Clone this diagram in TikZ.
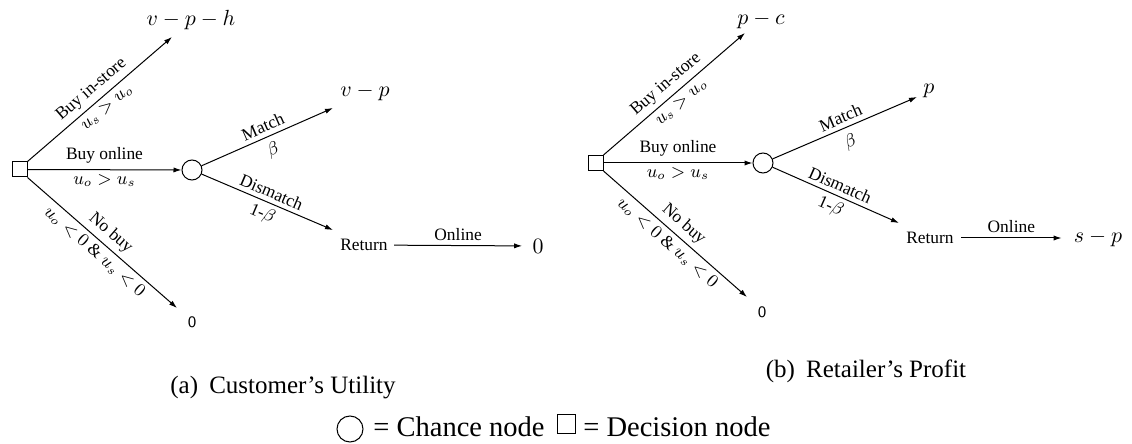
\documentclass[tikz,border=0pt]{standalone}
\usepackage{fontspec}
\setmainfont{Liberation Serif}
\usetikzlibrary{arrows.meta}
\begin{document}
\begin{tikzpicture}[x=0.5pt, y=-0.5pt,
  conn/.style={line width=0.5pt, -{Latex[length=4pt,width=2.6pt]}},
  lab/.style={font=\fontsize{8.7}{10}\selectfont, inner sep=2.2pt},
  leaf/.style={font=\fontsize{11}{13}\selectfont, inner sep=0pt},
  sfleaf/.style={font=\sffamily\fontsize{8}{10}\selectfont, inner sep=0pt},
  txt/.style={font=\fontsize{8.7}{10}\selectfont},
  dec/.style={draw, line width=0.5pt, minimum size=7.5pt, inner sep=0pt},
  chance/.style={draw, circle, line width=0.5pt, minimum size=10pt, inner sep=0pt},
  captxt/.style={font=\fontsize{12.5}{15}\selectfont, inner sep=0pt},
  lgndtxt/.style={font=\fontsize{14.25}{17}\selectfont, anchor=base west, inner sep=0pt}]
\useasboundingbox (0,0) rectangle (1132,444);

% ---------- (a) Customer's Utility ----------
\node[dec] (sq1) at (19.5,169.5) {};
\node[chance] (ch1) at (192,170) {};
\coordinate (a1) at (172,37);
\coordinate (a2) at (333,108);
\coordinate (a3) at (177,308);
\coordinate (a4) at (333,230);
\node[leaf] (vph) at (191,20) {$v-p-h$};
\node[leaf] (vp) at (365,92) {$v-p$};
\node[sfleaf] (z0a) at (192,322) {0};
\node[txt, inner sep=3pt] (ret1) at (364,245) {Return};
\node[leaf, inner sep=5pt] (z1) at (538,246) {$0$};

\draw[conn] (sq1.north east) -- node[lab,sloped,above]{Buy in-store} node[lab,sloped,below]{$u_s>u_o$} (a1);
\draw[conn] (sq1.east) -- node[lab,above,yshift=1pt]{Buy online} node[lab,below]{$u_o>u_s$} (ch1);
\draw[conn] (sq1.south east) -- node[lab,sloped,above]{No buy} node[lab,sloped,below]{$u_o<0$ \& $u_s<0$} (a3);
\draw[conn] (ch1) -- node[lab,sloped,above]{Match} node[lab,sloped,below,yshift=-1pt]{$\beta$} (a2);
\draw[conn] (ch1) -- node[lab,sloped,above]{Dismatch} node[lab,sloped,below]{1-$\beta$} (a4);
\draw[conn] (ret1) -- node[lab,above]{Online} (z1);

% ---------- (b) Retailer's Profit ----------
\node[dec] (sq2) at (595.5,163) {};
\node[chance] (ch2) at (763,163) {};
\coordinate (b1) at (745,33);
\coordinate (b2) at (917,97);
\coordinate (b3) at (747,297);
\coordinate (b4) at (899,223);
\node[leaf] (pc) at (761,20) {$p-c$};
\node[leaf] (pp) at (929,91) {$p$};
\node[sfleaf] (z0b) at (762,312) {0};
\node[txt, inner sep=3.5pt] (ret2) at (930,238) {Return};
\node[leaf, inner sep=6pt] (sp) at (1098,238) {$s-p$};

\draw[conn] (sq2.north east) -- node[lab,sloped,above]{Buy in-store} node[lab,sloped,below]{$u_s>u_o$} (b1);
\draw[conn] (sq2.east) -- node[lab,above,yshift=1pt]{Buy online} node[lab,below]{$u_o>u_s$} (ch2);
\draw[conn] (sq2.south east) -- node[lab,sloped,above]{No buy} node[lab,sloped,below]{$u_o<0$ \& $u_s<0$} (b3);
\draw[conn] (ch2) -- node[lab,sloped,above]{Match} node[lab,sloped,below,yshift=-1pt]{$\beta$} (b2);
\draw[conn] (ch2) -- node[lab,sloped,above]{Dismatch} node[lab,sloped,below]{1-$\beta$} (b4);
\draw[conn] (ret2) -- node[lab,above]{Online} (sp);

% ---------- captions and legend ----------
\node[captxt] (capa) at (283,388) {(a)\hspace{0.45em}Customer's Utility};
\node[captxt] (capb) at (866,371) {(b)\hspace{0.45em}Retailer's Profit};
\node[draw, circle, line width=0.5pt, minimum size=13pt, inner sep=0pt] (lgc) at (350,429) {};
\node[lgndtxt] (lgt1) at (373,437) {= Chance node};
\node[draw, line width=0.5pt, minimum size=9pt, inner sep=0pt] (lgs) at (566,424) {};
\node[lgndtxt] (lgt2) at (583,437) {= Decision node};
\end{tikzpicture}
\end{document}
